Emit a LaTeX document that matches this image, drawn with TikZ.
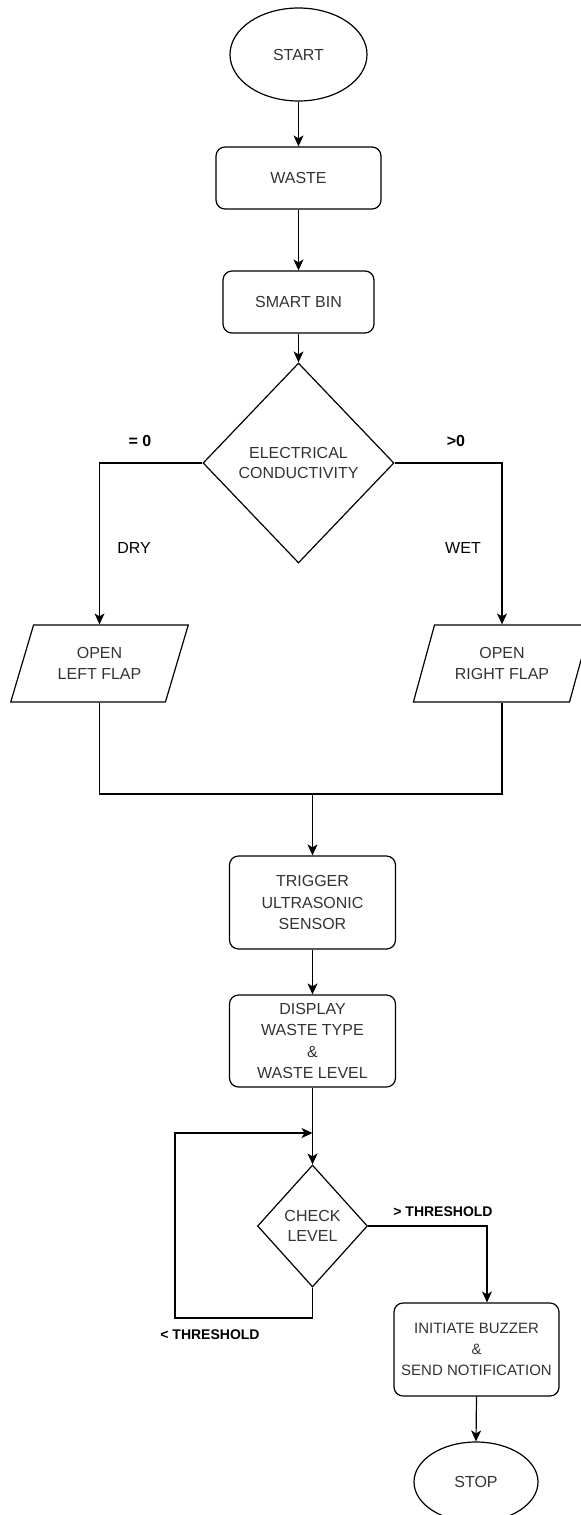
\documentclass[tikz,border=0pt]{standalone}
\usepackage{fontspec}
\setmainfont{Liberation Sans}
\usetikzlibrary{shapes.geometric,arrows.meta}

\begin{document}
\begin{tikzpicture}[
  x=0.5pt, y=-0.5pt,
  line width=0.6pt,
  >={Stealth[length=5.5pt,width=5pt,inset=1.5pt]},
  box/.style={draw, rounded corners=4.5pt, align=center, text=black!80,
    font=\fontsize{8}{10.8}\selectfont, inner sep=2pt},
  term/.style={draw, ellipse, text=black!80, font=\fontsize{8}{10.8}\selectfont},
  choice/.style={draw, diamond, align=center, inner sep=0pt, text=black!80,
    font=\fontsize{8}{9.8}\selectfont},
  flap/.style={draw, trapezium, trapezium left angle=70, trapezium right angle=110,
    trapezium stretches=true, minimum width=89pt, minimum height=38.5pt,
    align=center, text=black!80, font=\fontsize{8}{10.8}\selectfont},
  lbl/.style={font=\fontsize{8}{10}\selectfont},
  thr/.style={font=\fontsize{7}{8}\selectfont\bfseries}
]
\useasboundingbox (0,0) rectangle (581,1515);

\node[term, minimum width=68.5pt, minimum height=46.5pt] (start) at (298.5,54.5) {START};
\node[box, minimum width=82.5pt, minimum height=31pt] (waste) at (298.5,178) {WASTE};
\node[box, minimum width=75.5pt, minimum height=31pt] (bin) at (298.5,302) {SMART BIN};
\node[choice, minimum width=95.5pt, minimum height=100pt] (cond) at (298.5,463) {ELECTRICAL\\CONDUCTIVITY};
\node[flap] (left) at (99.5,663.5) {OPEN\\LEFT FLAP};
\node[flap] (right) at (502,663.5) {OPEN\\RIGHT FLAP};
\coordinate (join) at (312.5,794);
\node[box, minimum width=83pt, minimum height=46.5pt] (trig) at (312.5,902.5) {TRIGGER\\ULTRASONIC\\SENSOR};
\node[box, minimum width=83pt, minimum height=46pt] (disp) at (312.5,1041) {DISPLAY\\WASTE TYPE\\\&\\WASTE LEVEL};
\coordinate (loopin) at (312.5,1133);
\node[choice, minimum width=55pt, minimum height=61pt] (check) at (312.5,1226) {CHECK\\LEVEL};
\coordinate (loopcorner) at (175,1318);
\node[box, minimum width=82.5pt, minimum height=46.5pt, font=\fontsize{7.5}{10.6}\selectfont]
  (buzz) at (476.5,1349.5) {INITIATE BUZZER\\\&\\SEND NOTIFICATION};
\node[term, minimum width=62pt, minimum height=40pt] (stop) at (476,1482) {STOP};

% branch labels
\node[lbl, font=\fontsize{8}{10}\selectfont\bfseries] (eqzero) at (140,441) {= 0};
\node[lbl, font=\fontsize{8}{10}\selectfont\bfseries] (gtzero) at (456,441) {>0};
\node[lbl] (dry) at (134,548) {DRY};
\node[lbl] (wet) at (463,548) {WET};
\node[thr] (above) at (443,1212) {> THRESHOLD};
\node[thr] (below) at (210,1335) {< THRESHOLD};

% connectors
\draw[->] (start) -- (waste);
\draw[->] (waste) -- (bin);
\draw[->] (bin) -- (cond);
\draw[->] (cond.west) -| (left.north);
\draw[->] (cond.east) -| (right.north);
\draw (left.south) |- (join) -| (right.south);
\draw[->] (join) -- (trig.north);
\draw[->] (trig) -- (disp);
\draw[->] (disp.south) -- (check.north);
\draw[->] (check.south) |- (loopcorner) |- (loopin);
\draw[->] (check.east) -| ([xshift=5.25pt]buzz.north);
\draw[->] (buzz.south) -- (stop.north);
\end{tikzpicture}
\end{document}
